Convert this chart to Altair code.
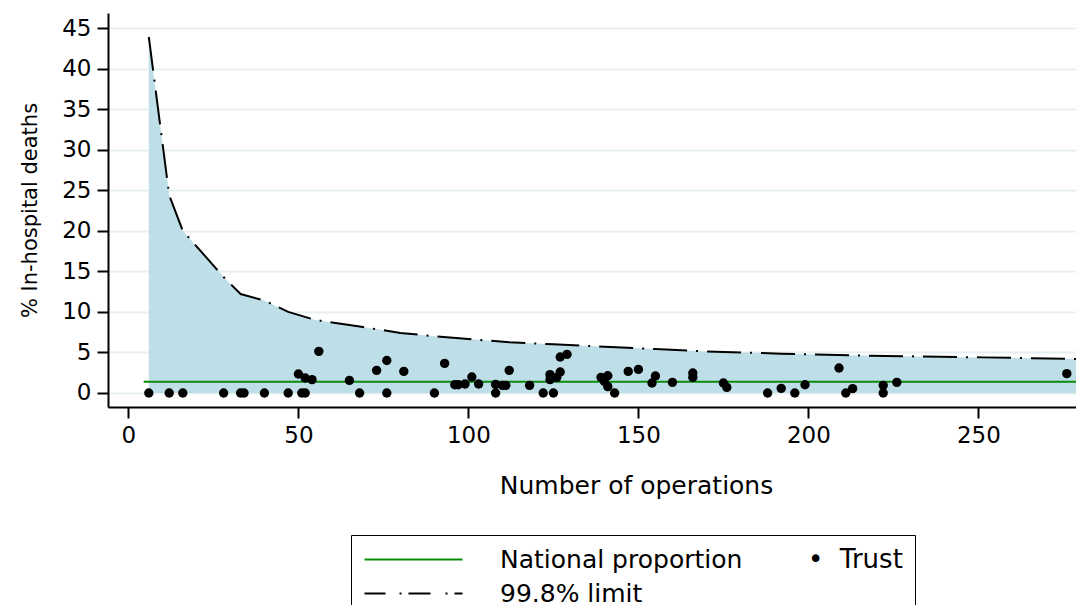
import altair as alt
import pandas as pd

# ---- data ----
ops = [6, 12, 16, 28, 33, 34, 40, 47, 51, 52, 50, 52, 54, 56,
       65, 68, 73, 76, 76, 81, 90, 93, 96, 97, 99, 101, 103, 108, 108, 110, 111, 112,
       118, 122, 125, 124, 124, 126, 127, 127, 129, 139, 141, 140, 141, 143, 147, 150, 154, 155, 160, 166, 166,
       175, 176, 188, 192, 196, 199, 209, 211, 213, 222, 222, 226, 276]
pct = [0, 0, 0, 0, 0, 0, 0, 0, 0, 0, 2.34, 1.85, 1.64, 5.13,
       1.55, 0, 2.79, 4.0, 0, 2.66, 0, 3.65, 1.02, 1.02, 1.1, 1.97, 1.1, 1.06, 0, 0.94, 0.94, 2.79,
       0.94, 0, 0, 2.26, 1.64, 1.93, 2.59, 4.44, 4.76, 1.93, 2.13, 1.43, 0.78, 0, 2.66, 2.91, 1.23, 2.1, 1.31, 2.47, 1.93,
       1.23, 0.69, 0, 0.57, 0, 1.02, 3.08, 0, 0.53, 0.94, 0, 1.31, 2.38]

limit_n = [6, 12, 16, 28, 33, 40, 47, 55, 68, 80, 90, 100, 112, 125, 140, 155, 170, 192, 212, 231, 251, 279]
limit_v = [43.9, 24.4, 20.0, 14.3, 12.2, 11.4, 10.0, 9.0, 8.2, 7.4, 7.0, 6.65, 6.25, 6.0, 5.7, 5.42, 5.13, 4.85, 4.64, 4.51, 4.39, 4.19]

national_n = [4.5, 279]
national_v = [1.39, 1.39]

line_labels = ["National proportion", "99.8% limit"]
point_label = "Trust"
x_ticks = [0, 50, 100, 150, 200, 250]
y_ticks = [0, 5, 10, 15, 20, 25, 30, 35, 40, 45]

FONT = "DejaVu Sans"
GREEN = "#0b8a0b"
FILL = "#bedfe8"

pts = pd.DataFrame({"n": ops, "v": pct})
lim = pd.DataFrame({"n": limit_n, "v": limit_v})
nat = pd.DataFrame({"n": national_n, "v": national_v})
leg = pd.DataFrame({"series": line_labels, "n": [None] * 2, "v": [None] * 2})

xs = alt.Scale(domain=[-6, 278.7], nice=False, zero=False)
ys = alt.Scale(domain=[-1.73, 46.86], nice=False, zero=False)

x_axis = alt.Axis(values=x_ticks, title="Number of operations", grid=False,
                  titleFont=FONT, titleFontSize=25, titleFontWeight="normal", titleColor="black",
                  titleX=528, titleY=78, titleBaseline="middle", titleAlign="center",
                  labelFont=FONT, labelFontSize=23, labelColor="black", labelPadding=6,
                  tickSize=11, tickWidth=2, tickColor="black",
                  domainColor="black", domainWidth=2)
y_axis = alt.Axis(values=y_ticks, title="% In-hospital deaths", grid=True,
                  gridColor="#e7eff1", gridWidth=2,
                  titleFont=FONT, titleFontSize=21, titleFontWeight="normal", titleColor="black",
                  titleX=-78, titleY=197, titleAngle=270, titleBaseline="middle", titleAlign="center",
                  labelFont=FONT, labelFontSize=23, labelColor="black", labelPadding=6,
                  tickSize=11, tickWidth=2, tickColor="black",
                  domainColor="black", domainWidth=2)

area = alt.Chart(lim).mark_area(color=FILL, clip=True, opacity=1).encode(
    x=alt.X("n:Q", scale=xs, axis=x_axis),
    y=alt.Y("v:Q", scale=ys, axis=y_axis),
    y2=alt.datum(0),
)

nat_line = alt.Chart(nat).mark_line(color=GREEN, strokeWidth=2, clip=True).encode(
    x=alt.X("n:Q", scale=xs), y=alt.Y("v:Q", scale=ys))

lim_line = alt.Chart(lim).mark_line(color="black", strokeWidth=2, strokeDash=[34, 9, 2, 9], clip=True).encode(
    x=alt.X("n:Q", scale=xs), y=alt.Y("v:Q", scale=ys))

points = alt.Chart(pts).mark_circle(color="black", size=88, opacity=1, clip=True).encode(
    x=alt.X("n:Q", scale=xs), y=alt.Y("v:Q", scale=ys))

# ---- legend symbols as custom paths (unit = 10 px for a 20 px symbol slot) ----
green_path = "M-1.1,0L8.7,0"
dash_path = "M-1.1,0L1.0,0M2.4,0L2.6,0M3.3,0L5.5,0M7.0,0L7.2,0M7.9,0L8.7,0"

# the point series ("Trust") is shown as the legend's right-hand title with its marker
legend_def = dict(title="\u2022\u00a0\u00a0" + point_label, titleOrient="right", titleAnchor="start",
                  titleBaseline="top",
                  titleFont=FONT, titleFontSize=26, titleFontWeight="normal", titleColor="black",
                  titlePadding=66, titleLimit=500,
                  orient="none", legendX=243, legendY=522, columns=1,
                  values=line_labels,
                  symbolSize=400, symbolStrokeWidth=2,
                  labelFont=FONT, labelFontSize=25, labelColor="black", labelLimit=500,
                  labelOffset=112, rowPadding=8, padding=12,
                  strokeColor="black", fillColor="white")

legend_layer = alt.Chart(leg).mark_point(size=400, filled=False, strokeWidth=2, opacity=1).encode(
    x=alt.X("n:Q", scale=xs),
    y=alt.Y("v:Q", scale=ys),
    shape=alt.Shape("series:N", scale=alt.Scale(domain=line_labels, range=[green_path, dash_path]),
                    legend=alt.Legend(**legend_def)),
    color=alt.Color("series:N", scale=alt.Scale(domain=line_labels, range=[GREEN, "black"]),
                    legend=alt.Legend(**legend_def)),
)

chart = alt.layer(area, nat_line, lim_line, points, legend_layer).properties(
    width=968, height=394,
    autosize=alt.AutoSizeParams(type="none"),
    padding={"left": 108, "top": 13, "right": 0, "bottom": 198},
    background="white",
).configure_view(stroke=None)

chart.save("out.html", embed_options={"renderer": "svg", "actions": False})
